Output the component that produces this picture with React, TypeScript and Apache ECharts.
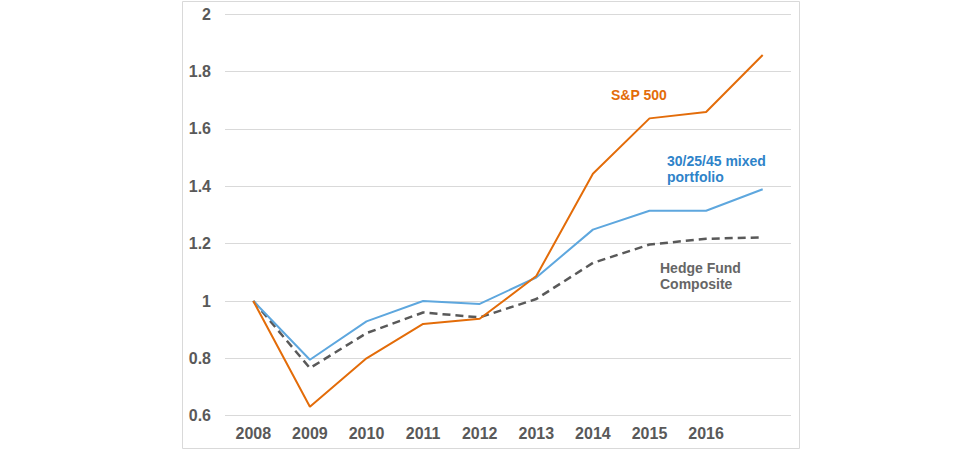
import React, { useEffect, useRef } from 'react'
import * as echarts from 'echarts'

const years = ['2008', '2009', '2010', '2011', '2012', '2013', '2014', '2015', '2016', '']
const sp500 = [1.0, 0.631, 0.8, 0.92, 0.938, 1.087, 1.444, 1.637, 1.659, 1.858]
const mixed = [1.0, 0.795, 0.929, 1.0, 0.99, 1.082, 1.249, 1.315, 1.315, 1.39]
const hedge = [1.0, 0.766, 0.888, 0.96, 0.943, 1.007, 1.133, 1.197, 1.217, 1.222]
const yTicks = { min: 0.6, max: 2, interval: 0.2 }

const FONT = '"Liberation Sans", Arial, sans-serif'

const App: React.FC = () => {
  const chartRef = useRef<HTMLDivElement>(null)

  useEffect(() => {
    if (!chartRef.current) return
    const chart = echarts.init(chartRef.current, undefined, { renderer: 'svg' })

    const option: echarts.EChartsOption = {
      animation: false,
      backgroundColor: '#fff',
      grid: { left: 225, right: 187, top: 14.3, bottom: 34.3 },
      xAxis: {
        type: 'category',
        data: years,
        boundaryGap: true,
        axisLine: { show: false },
        axisTick: { show: false },
        axisLabel: {
          color: '#595959',
          fontFamily: FONT,
          fontSize: 16,
          fontWeight: 'bold',
          margin: 10,
          interval: 0
        }
      },
      yAxis: {
        type: 'value',
        min: yTicks.min,
        max: yTicks.max,
        interval: yTicks.interval,
        axisLine: { show: false },
        axisTick: { show: false },
        splitLine: { lineStyle: { color: '#d9d9d9', width: 1 } },
        axisLabel: {
          color: '#595959',
          fontFamily: FONT,
          fontSize: 16,
          fontWeight: 'bold',
          margin: 14,
          formatter: (v: number) => String(Math.round(v * 10) / 10)
        }
      },
      series: [
        {
          name: 'Hedge Fund Composite',
          type: 'line',
          data: hedge,
          symbol: 'none',
          lineStyle: { color: '#595959', width: 2.5, type: [8, 5] }
        },
        {
          name: '30/25/45 mixed portfolio',
          type: 'line',
          data: mixed,
          symbol: 'none',
          lineStyle: { color: '#5ea7de', width: 2 }
        },
        {
          name: 'S&P 500',
          type: 'line',
          data: sp500,
          symbol: 'none',
          lineStyle: { color: '#e36c09', width: 2 }
        }
      ],
      graphic: [
        {
          type: 'rect',
          shape: { x: 182.5, y: 1.5, width: 617, height: 447 },
          style: { fill: 'none', stroke: '#d9d9d9', lineWidth: 1 },
          silent: true
        },
        {
          type: 'text',
          x: 611,
          y: 94.5,
          style: {
            text: 'S&P 500',
            fill: '#e36c09',
            font: `bold 14px ${FONT}`,
            verticalAlign: 'middle'
          }
        },
        {
          type: 'text',
          x: 667,
          y: 153,
          style: {
            text: '30/25/45 mixed\nportfolio',
            fill: '#2e83c9',
            font: `bold 14px ${FONT}`,
            lineHeight: 16,
            verticalAlign: 'top'
          }
        },
        {
          type: 'text',
          x: 660,
          y: 260,
          style: {
            text: 'Hedge Fund\nComposite',
            fill: '#666666',
            font: `bold 14px ${FONT}`,
            lineHeight: 16,
            verticalAlign: 'top'
          }
        }
      ]
    }

    chart.setOption(option)
    return () => chart.dispose()
  }, [])

  return (
    <div
      ref={chartRef}
      style={{ position: 'fixed', left: 0, top: 0, width: 978, height: 450 }}
    />
  )
}

export default App
